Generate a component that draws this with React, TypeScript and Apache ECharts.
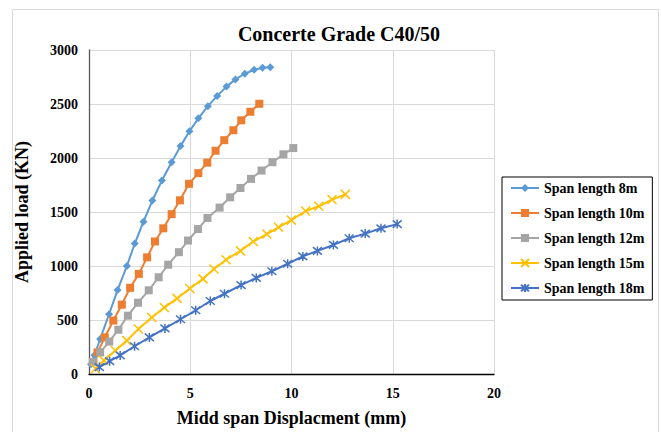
import React, { useEffect, useRef } from "react";
import * as echarts from "echarts";

const titleText = "Concerte Grade C40/50";
const xAxisName = "Midd span Displacment (mm)";
const yAxisName = "Applied load (KN)";
const seriesNames = ["Span length 8m", "Span length 10m", "Span length 12m", "Span length 15m", "Span length 18m"];
const colors = ["#5B9BD5", "#ED7D31", "#A5A5A5", "#FFC000", "#4472C4"];

const span8x = [0.1, 0.27, 0.55, 0.99, 1.41, 1.87, 2.26, 2.69, 3.13, 3.6, 4.08, 4.52, 4.96, 5.4, 5.87, 6.33, 6.79, 7.23, 7.69, 8.15, 8.57, 8.95];
const span8y = [90, 174, 324, 553, 777, 1000, 1208, 1410, 1606, 1791, 1961, 2110, 2248, 2367, 2480, 2575, 2661, 2728, 2780, 2817, 2835, 2841];

const span10x = [0.22, 0.42, 0.78, 1.2, 1.62, 2.03, 2.46, 2.87, 3.26, 3.67, 4.08, 4.49, 4.94, 5.4, 5.84, 6.25, 6.68, 7.13, 7.52, 7.97, 8.41];
const span10y = [110, 200, 339, 495, 642, 798, 927, 1080, 1227, 1349, 1480, 1608, 1761, 1860, 1957, 2067, 2165, 2257, 2349, 2428, 2502];

const span12x = [0.19, 0.55, 1.0, 1.45, 1.92, 2.42, 2.95, 3.44, 3.91, 4.44, 4.89, 5.38, 5.85, 6.45, 6.97, 7.48, 8.0, 8.52, 9.06, 9.6, 10.09];
const span12y = [110, 200, 300, 410, 540, 660, 775, 896, 1012, 1128, 1236, 1342, 1445, 1541, 1636, 1722, 1807, 1884, 1961, 2034, 2092];

const span15x = [0.32, 0.73, 1.3, 1.87, 2.44, 3.1, 3.72, 4.35, 4.98, 5.63, 6.17, 6.77, 7.48, 8.11, 8.78, 9.36, 9.99, 10.7, 11.35, 12.0, 12.66];
const span15y = [49, 126, 217, 309, 416, 523, 615, 700, 792, 881, 972, 1058, 1140, 1227, 1296, 1358, 1425, 1509, 1553, 1615, 1663];

const span18x = [0.51, 1.02, 1.54, 2.25, 2.98, 3.75, 4.52, 5.27, 5.99, 6.69, 7.51, 8.26, 9.03, 9.81, 10.56, 11.28, 12.07, 12.85, 13.64, 14.42, 15.22];
const span18y = [64, 119, 172, 257, 339, 422, 507, 590, 676, 743, 823, 890, 951, 1021, 1089, 1140, 1195, 1257, 1300, 1349, 1388];

const xTicks = { min: 0, max: 20, interval: 5 };
const yTicks = { min: 0, max: 3000, interval: 500 };

const FONT = "Liberation Serif";

function pairs(xs: number[], ys: number[]) {
  return xs.map((x, i) => [x, ys[i]]);
}

export default function App() {
  const ref = useRef<HTMLDivElement>(null);
  useEffect(() => {
    if (!ref.current) return;
    const chart = echarts.init(ref.current, undefined, { renderer: "svg" });
    const xs = [span8x, span10x, span12x, span15x, span18x];
    const ys = [span8y, span10y, span12y, span15y, span18y];
    const symbols = [
      "diamond",
      "rect",
      "rect",
      "path://M0,0L10,10M0,10L10,0",
      "path://M0,0L10,10M0,10L10,0M5,-1L5,11",
    ];
    const sizes = [8, 8, 8, 9, 9];
    chart.setOption({
      animation: false,
      backgroundColor: "#fff",
      title: {
        text: titleText,
        left: 334,
        textAlign: "center",
        top: 19,
        textStyle: { fontFamily: FONT, fontWeight: "bold", fontSize: 20, color: "#000" },
      },
      graphic: [
        {
          type: "rect",
          shape: { x: 12.5, y: 9.5, width: 646, height: 440 },
          style: { fill: "none", stroke: "#d9d9d9", lineWidth: 1 },
          silent: true,
          z: -10,
        },
      ],
      grid: { left: 89, right: 167, top: 50, bottom: 55, containLabel: false },
      legend: {
        orient: "vertical",
        left: 502,
        top: 177,
        padding: [4, 8, 5, 8],
        itemWidth: 28,
        itemHeight: 10,
        itemGap: 11,
        borderColor: "#000",
        borderWidth: 1,
        backgroundColor: "#fff",
        textStyle: { fontFamily: FONT, fontWeight: "bold", fontSize: 14, color: "#000", lineHeight: 14 },
        data: seriesNames,
      },
      xAxis: {
        type: "value",
        min: xTicks.min,
        max: xTicks.max,
        interval: xTicks.interval,
        name: xAxisName,
        nameLocation: "middle",
        nameGap: 35,
        nameTextStyle: { fontFamily: FONT, fontWeight: "bold", fontSize: 18, color: "#000" },
        axisLine: { show: true, lineStyle: { color: "#000", width: 1.3 } },
        axisTick: { show: false },
        axisLabel: {
          fontFamily: FONT,
          fontWeight: "bold",
          fontSize: 14,
          color: "#000",
          margin: 12,
          formatter: (v: number) => String(v),
        },
        splitLine: { show: true, lineStyle: { color: "#d9d9d9", width: 1 } },
      },
      yAxis: {
        type: "value",
        min: yTicks.min,
        max: yTicks.max,
        interval: yTicks.interval,
        name: yAxisName,
        nameLocation: "middle",
        nameGap: 58,
        nameTextStyle: { fontFamily: FONT, fontWeight: "bold", fontSize: 18, color: "#000" },
        axisLine: { show: true, lineStyle: { color: "#595959", width: 1.3 } },
        axisTick: { show: false },
        axisLabel: {
          fontFamily: FONT,
          fontWeight: "bold",
          fontSize: 14,
          color: "#000",
          margin: 11,
          formatter: (v: number) => String(v),
        },
        splitLine: { show: true, lineStyle: { color: "#d9d9d9", width: 1 } },
      },
      series: seriesNames.map((name, i) => ({
        name,
        type: "line",
        data: pairs(xs[i], ys[i]),
        symbol: symbols[i],
        symbolSize: sizes[i],
        showSymbol: true,
        lineStyle: { color: colors[i], width: 2 },
        itemStyle:
          i >= 3
            ? { color: colors[i], borderColor: colors[i], borderWidth: 1.5 }
            : { color: colors[i], borderWidth: 0 },
        emphasis: { disabled: true },
      })),
    });
    return () => chart.dispose();
  }, []);
  return (
    <div
      ref={ref}
      style={{ position: "fixed", left: 0, top: 0, width: 661, height: 432, background: "#fff" }}
    />
  );
}
